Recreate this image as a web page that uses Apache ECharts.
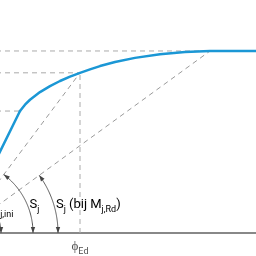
<!DOCTYPE html>
<html>
<head>
<meta charset="utf-8">
<script src="https://cdn.jsdelivr.net/npm/echarts@6/dist/echarts.min.js"></script>
<style>html,body{margin:0;padding:0;background:#fff}#c{width:256px;height:256px}</style>
</head>
<body>
<div id="c"></div>
<script>
// Moment-rotation curve (rotation phi in mrad, moment M in % of M_j,Rd)
const elasticPhi = [0, 6.0];
const elasticM = [0, 67.0];
const curvePhi = [6.0, 6.5, 7.0, 8.0, 9.0, 10.0, 11.0, 12.0, 13.0, 14.0, 15.5, 17.5, 20.0, 22.5, 25.0, 29.6];
const curveM = [67.0, 70.5, 73.2, 77.4, 80.7, 83.5, 85.9, 88.0, 89.9, 91.7, 93.9, 96.2, 98.2, 99.4, 100, 100];
const MRd = 100, MEd = 88.0, Mel = 67.0;
const phiRd = 25.0, phiEd = 12.0, phiEl = 6.0;
// stiffness arcs: radius (phi where arc meets axis), target point of its line, label
const arcRadius = [4.1, 7.3, 9.8];
const arcTargetPhi = [phiEl, phiEd, phiRd];
const arcTargetM = [Mel, MEd, MRd];
const arcLabels = ['{s|S}{sub|j,ini}', '{s|S}{sub|j}', '{s|S}{sub|j}{s| (bij M}{sub|j,Rd}{s|)}'];
const xTickValues = [phiEd];
const xTickLabels = ['{s|ϕ}{sub|Ed}'];

const rich = {
  s: {fontSize: 13, fontFamily: 'Roboto', color: '#505050', lineHeight: 18},
  sub: {fontSize: 9, fontFamily: 'Roboto', color: '#505050', verticalAlign: 'bottom', lineHeight: 13}
};
const dash = {color: '#aaa', width: 1, type: [5, 4]};
function pairs(a, b){ return a.map((v,i)=>[v,b[i]]); }
function dashed(data, color){
  return {type:'line', data, symbol:'none', silent:true, z:1,
    lineStyle: Object.assign({}, dash, color?{color}:{})};
}
const chart = echarts.init(document.getElementById('c'), null, {renderer:'canvas'});
chart.setOption({
  animation:false,
  grid:{left:0, right:0, top:0, bottom:21},
  xAxis:{type:'value', min:4, max:29.6,
    axisLine:{show:true, lineStyle:{color:'#888', width:2}},
    axisTick:{show:false}, splitLine:{show:false},
    axisLabel:{customValues: xTickValues, margin:5, rich,
      formatter:(v)=>{ const i=xTickValues.indexOf(v); return i>=0?xTickLabels[i]:''; }}},
  yAxis:{type:'value', min:0, max:128, show:false},
  series:[
    dashed([[0,MRd],[phiRd,MRd]]),
    dashed([[0,MEd],[phiEd,MEd]]),
    dashed([[0,Mel],[phiEl,Mel]]),
    dashed([[phiEd,0],[phiEd,MEd]]),
    dashed([[0,0],[phiEd,MEd]], '#9a9a9a'),
    dashed([[0,0],[phiRd,MRd]], '#9a9a9a'),
    {type:'line', data:pairs(elasticPhi, elasticM), symbol:'none', z:3,
      lineStyle:{color:'#1b97d5', width:2.5, cap:'round', join:'round'}},
    {type:'line', data:pairs(curvePhi, curveM), symbol:'none', z:3, smooth:false,
      lineStyle:{color:'#1b97d5', width:2.5, cap:'round', join:'round'}},
    {type:'custom', z:4, silent:true, clip:false,
      data: arcRadius.map((r,i)=>[r, arcTargetPhi[i], arcTargetM[i], i]),
      renderItem:(params, api)=>{
        const r=api.value(0), tx=api.value(1), ty=api.value(2), idx=api.value(3);
        const o=api.coord([0,0]), e=api.coord([r,0]), t=api.coord([tx,ty]);
        const R=e[0]-o[0];
        const th=Math.atan2(o[1]-t[1], t[0]-o[0]);
        const pts=[];
        for(let k=0;k<=60;k++){ const a=th*k/60; pts.push([o[0]+R*Math.cos(a), o[1]-R*Math.sin(a)]); }
        const L=6, w=2.2;
        function head(a, d){
          const T=[o[0]+R*Math.cos(a), o[1]-R*Math.sin(a)];
          const B=[T[0]-d[0]*L, T[1]-d[1]*L];
          const n=[-d[1], d[0]];
          return {type:'polygon', shape:{points:[T,[B[0]+n[0]*w,B[1]+n[1]*w],[B[0]-n[0]*w,B[1]-n[1]*w]]},
            style:{fill:'#444'}};
        }
        const dy = idx===0 ? 23 : 28;
        const gap = idx===0 ? -1.5 : 2;
        const lx = o[0]+Math.sqrt(Math.max(R*R-dy*dy,0))+gap;
        return {type:'group', children:[
          {type:'polyline', shape:{points:pts}, style:{stroke:'#555', lineWidth:1, fill:null}},
          head(0, [0,1]),
          head(th, [-Math.sin(th), -Math.cos(th)]),
          {type:'text', x:lx, y:o[1]-dy, style:{text:arcLabels[idx], rich, align:'left', verticalAlign:'middle'}}
        ]};
      }}
  ]
});
</script>
</body>
</html>
